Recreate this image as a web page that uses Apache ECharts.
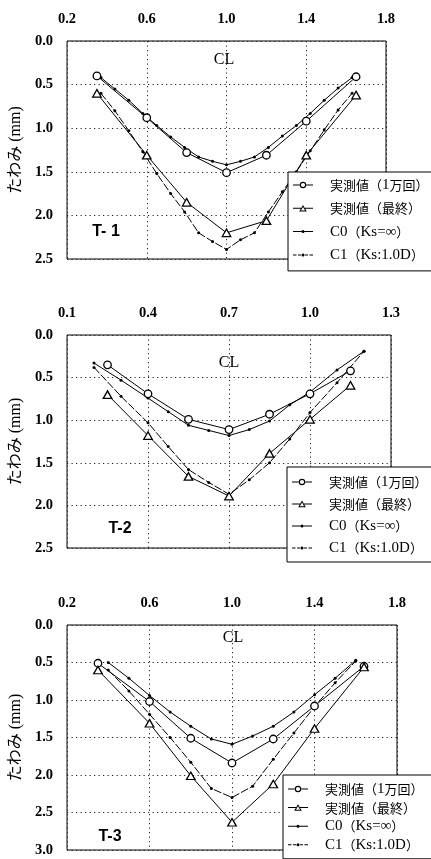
<!DOCTYPE html>
<html>
<head>
<meta charset="utf-8">
<script src="https://cdn.jsdelivr.net/npm/echarts@6.0.0/dist/echarts.min.js"></script>
<style>
  html, body { margin: 0; padding: 0; background: #fff; }
  #chart { width: 431px; height: 859px; }
</style>
</head>
<body>
<div id="chart"></div>
<script>
// Deflection profiles (mm) across the slab for specimens T-1, T-2, T-3.
const seriesNames = ['実測値（1万回）', '実測値（最終）', 'C0（Ks=∞）', 'C1（Ks:1.0D）'];
const panelLabels = ['T- 1', 'T-2', 'T-3'];
const yName = 'たわみ (mm)';

// ---- T-1 ----
const t1XTicks = [0.2, 0.6, 1.0, 1.4, 1.8];
const t1YTicks = [0.0, 0.5, 1.0, 1.5, 2.0, 2.5];
const t1MeasX  = [0.35, 0.60, 0.80, 1.00, 1.20, 1.40, 1.65];
const t1Meas1  = [0.40, 0.88, 1.28, 1.51, 1.31, 0.92, 0.41];
const t1MeasF  = [0.60, 1.31, 1.85, 2.20, 2.06, 1.31, 0.62];
const t1CalcX  = [0.37, 0.44, 0.51, 0.58, 0.65, 0.72, 0.79, 0.86, 0.93, 1.00,
                  1.07, 1.14, 1.21, 1.28, 1.35, 1.42, 1.49, 1.56, 1.63];
const t1C0     = [0.42, 0.55, 0.68, 0.83, 0.97, 1.10, 1.22, 1.33, 1.38, 1.42,
                  1.38, 1.33, 1.22, 1.09, 0.97, 0.83, 0.68, 0.54, 0.42];
const t1C1     = [0.60, 0.80, 1.03, 1.27, 1.52, 1.75, 1.96, 2.20, 2.30, 2.39,
                  2.28, 2.20, 1.96, 1.73, 1.50, 1.26, 1.02, 0.79, 0.60];

// ---- T-2 ----
const t2XTicks = [0.1, 0.4, 0.7, 1.0, 1.3];
const t2YTicks = [0.0, 0.5, 1.0, 1.5, 2.0, 2.5];
const t2MeasX  = [0.25, 0.40, 0.55, 0.70, 0.85, 1.00, 1.15];
const t2Meas1  = [0.35, 0.69, 0.99, 1.11, 0.93, 0.69, 0.42];
const t2MeasF  = [0.70, 1.18, 1.66, 1.89, 1.39, 0.99, 0.59];
const t2CalcX  = [0.20, 0.30, 0.40, 0.475, 0.55, 0.625, 0.70, 0.775, 0.85, 0.925, 1.00, 1.10, 1.20];
const t2C0     = [0.33, 0.53, 0.74, 0.90, 1.06, 1.12, 1.18, 1.11, 1.01, 0.82, 0.67, 0.41, 0.19];
const t2C1     = [0.38, 0.72, 1.03, 1.31, 1.58, 1.73, 1.87, 1.70, 1.50, 1.22, 0.91, 0.56, 0.19];

// ---- T-3 ----
const t3XTicks = [0.2, 0.6, 1.0, 1.4, 1.8];
const t3YTicks = [0.0, 0.5, 1.0, 1.5, 2.0, 2.5, 3.0];
const t3MeasX  = [0.35, 0.60, 0.80, 1.00, 1.20, 1.40, 1.64];
const t3Meas1  = [0.51, 1.02, 1.51, 1.84, 1.52, 1.08, 0.55];
const t3MeasF  = [0.60, 1.31, 2.01, 2.63, 2.12, 1.38, 0.56];
const t3CalcX  = [0.40, 0.50, 0.60, 0.70, 0.80, 0.90, 1.00, 1.10, 1.20, 1.30, 1.40, 1.50, 1.60];
const t3C0     = [0.50, 0.71, 0.94, 1.16, 1.35, 1.52, 1.59, 1.48, 1.35, 1.16, 0.93, 0.71, 0.47];
const t3C1     = [0.60, 0.88, 1.19, 1.50, 1.83, 2.18, 2.30, 2.15, 1.79, 1.44, 1.09, 0.77, 0.48];

const panels = [
  { xt: t1XTicks, yt: t1YTicks, mx: t1MeasX, m1: t1Meas1, mf: t1MeasF, cx: t1CalcX, c0: t1C0, c1: t1C1 },
  { xt: t2XTicks, yt: t2YTicks, mx: t2MeasX, m1: t2Meas1, mf: t2MeasF, cx: t2CalcX, c0: t2C0, c1: t2C1 },
  { xt: t3XTicks, yt: t3YTicks, mx: t3MeasX, m1: t3Meas1, mf: t3MeasF, cx: t3CalcX, c0: t3C0, c1: t3C1 }
];

// Layout of the three stacked plots
const gridBoxes = [
  { left: 64, top: 41,  width: 322, height: 218 },
  { left: 66, top: 335, width: 325, height: 213 },
  { left: 66, top: 625, width: 331, height: 225 }
];
const legendBoxes = [
  { left: 288, top: 172, itemGap: 7.3, padding: [5, 30, 8, 5] },
  { left: 287, top: 467, itemGap: 6,   padding: [7, 30, 6, 5] },
  { left: 283, top: 775, itemGap: 2.6, padding: [6, 30, 6, 5] }
];
const clPos = [[224, 60], [229, 363], [233, 638]];
const tagPos = [[106, 232], [120, 529], [110, 837]];
const xLabelMargin = [15, 15, 15];

const SERIF = '"Liberation Serif", "Noto Sans CJK JP", serif';
const MIXED = '"Liberation Serif", "Noto Sans CJK JP", sans-serif';
const CJK = '"Noto Sans CJK JP", sans-serif';

const zip = (xs, ys) => xs.map((x, i) => [x, ys[i]]);

// Legend icons: short line with the series marker, drawn as filled paths (32 x 8 box)
const BOX = 'M0,0L0,0M32,8L32,8';
const icons = [
  'path://' + BOX + 'M0,3.5H6.9V4.5H0Z M13.1,3.5H20V4.5H13.1Z ' +
    'M6.8,4A3.2,3.2 0 1,0 13.2,4A3.2,3.2 0 1,0 6.8,4Z M7.9,4A2.1,2.1 0 1,1 12.1,4A2.1,2.1 0 1,1 7.9,4Z',
  'path://' + BOX + 'M0,3.5H8.1V4.5H0Z M11.9,3.5H20V4.5H11.9Z ' +
    'M10,0.6L13.8,7.2L6.2,7.2Z M10,2.6L7.93,6.2L12.07,6.2Z',
  'path://' + BOX + 'M0,3.5H8.6V4.5H0Z M11.4,3.5H20V4.5H11.4Z ' +
    'M8.5,4A1.5,1.5 0 1,0 11.5,4A1.5,1.5 0 1,0 8.5,4Z',
  'path://' + BOX + 'M0,3.5H3.5V4.5H0Z M5,3.5H8V4.5H5Z M12,3.5H15V4.5H12Z M16.5,3.5H20V4.5H16.5Z ' +
    'M8.5,4A1.5,1.5 0 1,0 11.5,4A1.5,1.5 0 1,0 8.5,4Z'
];

// Latin runs in legend names are set in a serif face, a touch larger than the kana/kanji
const legendFormatter = name => name.replace(/[\x20-\x7E∞]+/g, m => '{lat|' + m + '}');

const grid = [], xAxis = [], yAxis = [], series = [], legend = [], graphic = [];

panels.forEach((p, i) => {
  grid.push(Object.assign({
    show: true, borderColor: '#000', borderWidth: 1, backgroundColor: 'transparent', containLabel: false
  }, gridBoxes[i]));

  const dotted = { lineStyle: { color: '#222', width: 1, type: [1.2, 3.3] } };

  xAxis.push({
    type: 'value', gridIndex: i, position: 'top',
    min: p.xt[0], max: p.xt[p.xt.length - 1], interval: p.xt[1] - p.xt[0],
    axisLine: { show: false }, axisTick: { show: false },
    splitLine: Object.assign({ show: true }, dotted),
    axisLabel: {
      margin: xLabelMargin[i], color: '#000', fontFamily: SERIF, fontSize: 14.5, fontWeight: 'bold',
      formatter: v => v.toFixed(1)
    }
  });

  yAxis.push({
    type: 'value', gridIndex: i, inverse: true,
    min: p.yt[0], max: p.yt[p.yt.length - 1], interval: p.yt[1] - p.yt[0],
    axisLine: { show: false }, axisTick: { show: false },
    splitLine: Object.assign({ show: true }, dotted),
    axisLabel: {
      margin: 14, color: '#000', fontFamily: SERIF, fontSize: 14.5, fontWeight: 'bold',
      formatter: v => v.toFixed(1)
    },
    name: yName, nameLocation: 'middle', nameRotate: 90, nameGap: 42,
    nameTextStyle: { color: '#000', fontFamily: MIXED, fontSize: 16 }
  });

  const common = { type: 'line', xAxisIndex: i, yAxisIndex: i, animation: false, z: 3 };
  const measStyle = { color: '#fff', borderColor: '#000', borderWidth: 1.3 };

  series.push(Object.assign({}, common, {
    name: seriesNames[0], data: zip(p.mx, p.m1), z: 5,
    symbol: 'circle', symbolSize: 7.5, itemStyle: measStyle,
    lineStyle: { color: '#000', width: 1 }
  }));
  series.push(Object.assign({}, common, {
    name: seriesNames[1], data: zip(p.mx, p.mf), z: 5,
    symbol: 'triangle', symbolSize: [8.5, 7.5], itemStyle: measStyle,
    lineStyle: { color: '#000', width: 1 }
  }));
  series.push(Object.assign({}, common, {
    name: seriesNames[2], data: zip(p.cx, p.c0),
    symbol: 'circle', symbolSize: 3, itemStyle: { color: '#000' },
    lineStyle: { color: '#000', width: 1 }
  }));
  series.push(Object.assign({}, common, {
    name: seriesNames[3], data: zip(p.cx, p.c1),
    symbol: 'circle', symbolSize: 3, itemStyle: { color: '#000' },
    lineStyle: { color: '#000', width: 1, type: [8, 2] }
  }));

  const lb = legendBoxes[i];
  legend.push({
    orient: 'vertical', left: lb.left, top: lb.top, itemGap: lb.itemGap, padding: lb.padding,
    backgroundColor: '#fff', borderColor: '#000', borderWidth: 1, borderRadius: 0,
    itemWidth: 32, itemHeight: 8, selectedMode: false, z: 10,
    formatter: legendFormatter,
    textStyle: {
      color: '#000', fontFamily: CJK, fontSize: 13, lineHeight: 16,
      rich: { lat: { color: '#000', fontFamily: '"Liberation Serif", serif', fontSize: 15, lineHeight: 16 } }
    },
    data: seriesNames.map((n, k) => ({
      name: n, icon: icons[k], itemStyle: { color: '#000', borderWidth: 0 }
    }))
  });

  graphic.push({
    type: 'text', x: clPos[i][0], y: clPos[i][1], z: 4,
    style: { text: 'CL', fill: '#000', font: '16px "Liberation Serif"', textAlign: 'center', textVerticalAlign: 'middle' }
  });
  graphic.push({
    type: 'text', x: tagPos[i][0], y: tagPos[i][1], z: 4,
    style: { text: panelLabels[i], fill: '#000', font: 'bold 16px "Liberation Sans"', textAlign: 'center', textVerticalAlign: 'middle' }
  });
});

const chart = echarts.init(document.getElementById('chart'), null, { renderer: 'canvas' });
chart.setOption({
  animation: false,
  backgroundColor: '#fff',
  grid, xAxis, yAxis, series, legend, graphic
});
</script>
</body>
</html>
